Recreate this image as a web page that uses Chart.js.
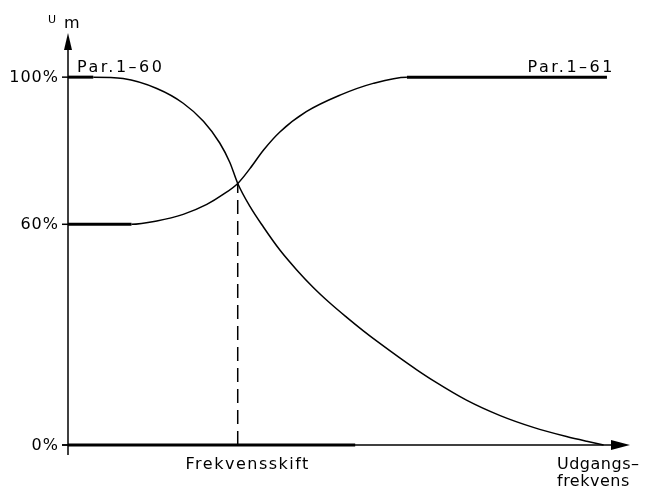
<!DOCTYPE html>
<html>
<head>
<meta charset="utf-8">
<script src="https://cdn.jsdelivr.net/npm/chart.js@4"></script>
<style>
  body { margin: 0; background: #fff; }
  canvas { display: block; }
</style>
</head>
<body>
<canvas id="myChart" width="656" height="488"></canvas>
<script>
// output frequency (in % of the drawn axis) and motor voltage Um in %
var par160X = [0, 4.5, 9.8, 15.8, 20.5, 24.1, 27.0, 28.8, 30.2, 32.4, 34.8, 37.7, 40.7, 43.6, 46.6, 49.6, 52.5, 55.5, 59.1, 62.0, 65.0, 70.9, 76.9, 82.8, 88.7, 92.3, 95.3];
var par160Y = [100, 100, 99.6, 96.9, 92.9, 88.0, 82.1, 76.8, 71.1, 64.8, 59.2, 53.0, 47.6, 42.9, 38.6, 34.7, 31.1, 27.6, 23.6, 20.5, 17.5, 12.2, 8.0, 4.8, 2.3, 1.0, 0];
var par161X = [0, 11.3, 15.8, 20.5, 24.7, 27.6, 30.2, 32.4, 34.8, 37.7, 42.4, 48.4, 54.3, 60.3, 95.9];
var par161Y = [60, 60, 60.9, 62.7, 65.4, 68.1, 71.1, 75.2, 80.2, 85.1, 90.6, 95.1, 98.3, 100, 100];
var shiftX = [30.2, 30.2];
var shiftY = [0, 71.1];
var baseX = [0, 51.1];
var baseY = [0, 0];
var yTicks = [0, 60, 100];
var yTickLabels = ['0%', '60%', '100%'];

function pts(xs, ys) {
    return xs.map(function (x, i) { return { x: x, y: ys[i] }; });
}

var FONT = '"DejaVu Sans", sans-serif';

var axesPlugin = {
    id: 'axesPlugin',
    beforeDatasetsDraw: function (chart) {
        var c = chart.ctx;
        var xs = chart.scales.x, ys = chart.scales.y;
        var x0 = xs.getPixelForValue(0);
        var y0 = ys.getPixelForValue(0);
        var yTop = ys.getPixelForValue(ys.max);
        var xEnd = xs.getPixelForValue(xs.max);
        c.save();
        c.strokeStyle = '#000';
        c.fillStyle = '#000';
        c.lineWidth = 1.5;
        // y axis
        c.beginPath();
        c.moveTo(x0, y0 + 10);
        c.lineTo(x0, yTop + 10);
        c.stroke();
        c.beginPath();
        c.moveTo(x0, yTop);
        c.lineTo(x0 - 4, yTop + 17);
        c.lineTo(x0 + 4, yTop + 17);
        c.closePath();
        c.fill();
        // x axis
        c.beginPath();
        c.moveTo(x0 - 6, y0);
        c.lineTo(xEnd - 10, y0);
        c.stroke();
        c.beginPath();
        c.moveTo(xEnd, y0);
        c.lineTo(xEnd - 19, y0 - 5);
        c.lineTo(xEnd - 19, y0 + 5);
        c.closePath();
        c.fill();
        // y ticks
        c.font = '16px ' + FONT;
        c.letterSpacing = '1px';
        c.textAlign = 'right';
        c.textBaseline = 'middle';
        yTicks.forEach(function (v, i) {
            var py = ys.getPixelForValue(v);
            c.beginPath();
            c.moveTo(x0 - 6, py);
            c.lineTo(x0, py);
            c.stroke();
            c.fillText(yTickLabels[i], x0 - 9, py + 1);
        });
        c.restore();
    },
    afterDraw: function (chart) {
        var c = chart.ctx;
        var xs = chart.scales.x, ys = chart.scales.y;
        var x0 = xs.getPixelForValue(0);
        var y0 = ys.getPixelForValue(0);
        var y100 = ys.getPixelForValue(100);
        c.save();
        c.fillStyle = '#000';
        c.textBaseline = 'alphabetic';
        // Um
        c.font = '11px ' + FONT;
        c.textAlign = 'left';
        c.fillText('U', x0 - 20, 23);
        c.font = '16px ' + FONT;
        c.fillText('m', x0 - 4, 28);
        // curve labels
        c.letterSpacing = '2.5px';
        c.fillText('Par.1–60', x0 + 9, y100 - 5);
        c.textAlign = 'right';
        c.fillText('Par.1–61', xs.getPixelForValue(par161X[par161X.length - 1]) + 8, y100 - 5);
        // x labels
        c.letterSpacing = '1.5px';
        c.textAlign = 'center';
        c.fillText('Frekvensskift', xs.getPixelForValue(shiftX[0]) + 10, y0 + 24);
        c.letterSpacing = '0.5px';
        c.textAlign = 'left';
        c.fillText('Udgangs–', 557, y0 + 24);
        c.fillText('frekvens', 557, y0 + 41);
        c.restore();
    }
};

var ctx = document.getElementById('myChart');

var myChart = new Chart(ctx, {
    type: 'scatter',
    data: {
        datasets: [{
            label: 'Par.1-60',
            data: pts(par160X, par160Y),
            showLine: true,
            borderColor: '#000',
            borderWidth: 1.5,
            pointRadius: 0,
            cubicInterpolationMode: 'monotone',
            clip: false,
            segment: {
                borderWidth: function (s) { return s.p0DataIndex === 0 ? 3 : 1.5; }
            }
        }, {
            label: 'Par.1-61',
            data: pts(par161X, par161Y),
            showLine: true,
            borderColor: '#000',
            borderWidth: 1.5,
            pointRadius: 0,
            cubicInterpolationMode: 'monotone',
            clip: false,
            segment: {
                borderWidth: function (s) { return (s.p0DataIndex === 0 || s.p0DataIndex >= 13) ? 3 : 1.5; }
            }
        }, {
            label: 'Frekvensskift',
            data: pts(shiftX, shiftY),
            showLine: true,
            borderColor: '#000',
            borderWidth: 1.5,
            borderDash: [14, 7],
            pointRadius: 0,
            clip: false
        }, {
            label: 'base',
            data: pts(baseX, baseY),
            showLine: true,
            borderColor: '#000',
            borderWidth: 3,
            pointRadius: 0,
            clip: false
        }]
    },
    options: {
        responsive: false,
        animation: false,
        layout: {
            padding: { left: 68, right: 26, top: 33, bottom: 43 }
        },
        scales: {
            x: { type: 'linear', min: 0, max: 100, display: false },
            y: { type: 'linear', min: 0, max: 112, display: false }
        },
        plugins: {
            legend: { display: false },
            tooltip: { enabled: false }
        }
    },
    plugins: [axesPlugin]
});
</script>
</body>
</html>
